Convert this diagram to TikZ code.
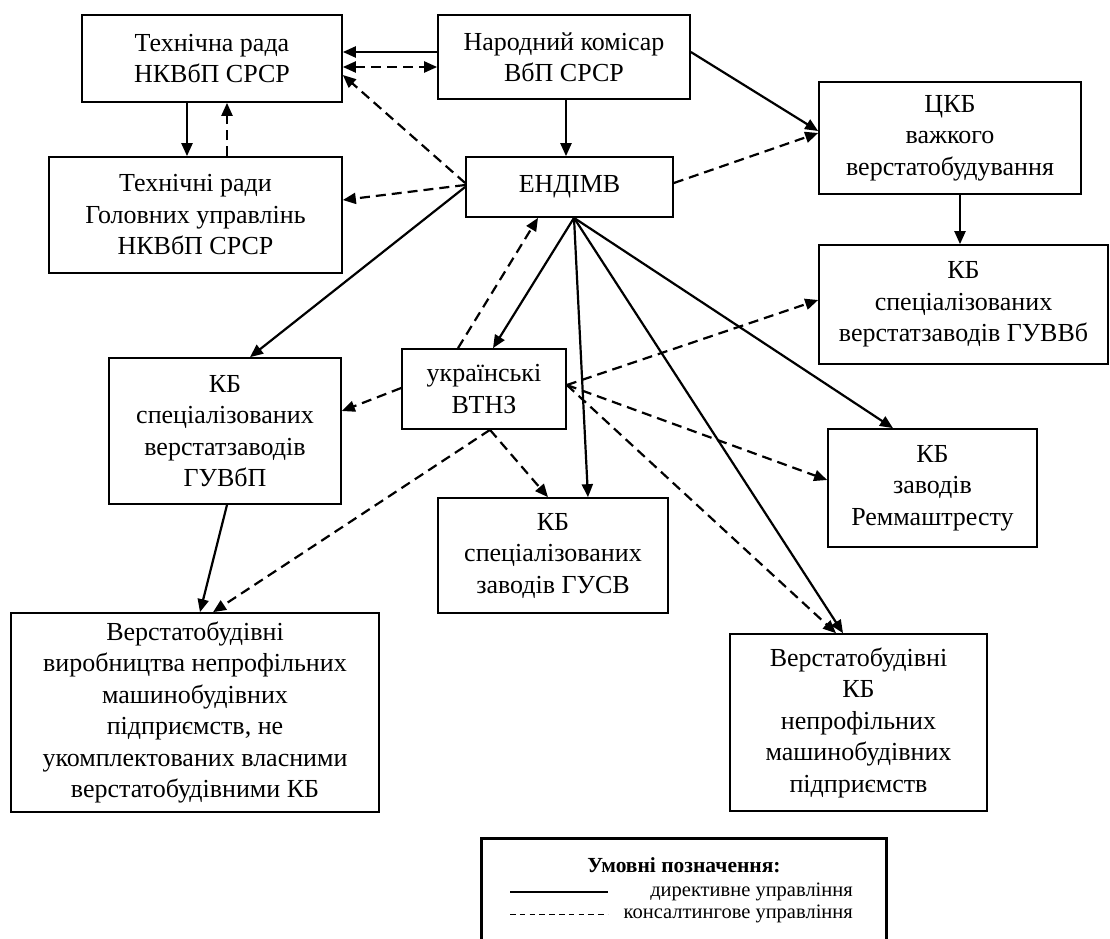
\documentclass[tikz,border=0pt]{standalone}
\usepackage{fontspec}
\setmainfont{Liberation Serif}
\usetikzlibrary{arrows.meta,calc}
\begin{document}
\begin{tikzpicture}[x=1pt,y=-1pt,
  box/.style={draw, line width=1.7pt, align=center, inner sep=0pt,
    font=\fontsize{26}{31.5}\selectfont},
  dir/.style={line width=2.2pt, -{Triangle[length=13pt,width=11pt]}},
  cons/.style={dir, dash pattern=on 10pt off 6pt},
  legtext/.style={inner sep=0pt, font=\fontsize{20.5}{22}\selectfont},
]
\useasboundingbox (0,0) rectangle (1110,938);
\fill[white] (0,0) rectangle (1110,938);

% boxes
\node[box, minimum width=260pt, minimum height=87pt] (tr) at (212,58.5) {Технічна рада\\НКВбП СРСР};
\node[box, minimum width=252pt, minimum height=84pt] (nk) at (564,57) {Народний комісар\\ВбП СРСР};
\node[box, minimum width=293pt, minimum height=116pt] (trg) at (195.5,215) {Технічні ради\\Головних управлінь\\НКВбП СРСР};
\node[box, minimum width=207pt, minimum height=60pt] (en) at (569.5,187) {ЕНДІМВ};
\node[box, minimum width=262pt, minimum height=112pt] (ckb) at (950,138) {ЦКБ\\важкого\\верстатобудування};
\node[box, minimum width=289pt, minimum height=119pt] (guvvb) at (963.5,304.5) {КБ\\спеціалізованих\\верстатзаводів ГУВВб};
\node[box, minimum width=164pt, minimum height=80pt] (vtnz) at (484,389) {українські\\ВТНЗ};
\node[box, minimum width=232pt, minimum height=146pt] (guvbp) at (225,431) {КБ\\спеціалізованих\\верстатзаводів\\ГУВбП};
\node[box, minimum width=230pt, minimum height=115pt] (gusv) at (553,555.5) {КБ\\спеціалізованих\\заводів ГУСВ};
\node[box, minimum width=209pt, minimum height=118pt] (remm) at (932.5,488) {КБ\\заводів\\Реммаштресту};
\node[box, minimum width=368pt, minimum height=199pt] (vv) at (195,712.5) {Верстатобудівні\\виробництва непрофільних\\машинобудівних\\підприємств, не\\укомплектованих власними\\верстатобудівними КБ};
\node[box, minimum width=257pt, minimum height=177pt] (vkb) at (858.5,722.5) {Верстатобудівні\\КБ\\непрофільних\\машинобудівних\\підприємств};

% connectors
\draw[dir] (nk.west |- 0,52) -- (tr.east |- 0,52);
\draw[cons, {Triangle[length=13pt,width=11pt]}-{Triangle[length=13pt,width=11pt]}] (tr.east |- 0,67) -- (nk.west |- 0,67);
\draw[cons] (en.west |- 0,183) -- (tr.east |- 0,75);
\draw[cons] (en.west |- 0,185) -- (trg.east |- 0,200);
\draw[dir] (tr.south -| 187,0) -- (trg.north -| 187,0);
\draw[cons] (trg.north -| 227,0) -- (tr.south -| 227,0);
\draw[dir] (nk.south -| 566,0) -- (en.north -| 566,0);
\draw[dir] (nk.east |- 0,52) -- (ckb.west |- 0,131);
\draw[cons] (en.east |- 0,183) -- (ckb.west |- 0,133);
\draw[dir] (ckb.south -| 960,0) -- (guvvb.north -| 960,0);
\draw[dir] (en.west |- 0,187) -- (guvbp.north -| 250,0);
\draw[cons] (vtnz.north -| 458,0) -- (en.south -| 538,0);

\coordinate (fan) at (en.south -| 574,0);
\draw[dir] (fan) -- (vtnz.north -| 493,0);
\draw[dir] (fan) -- (gusv.north -| 588,0);
\draw[dir] (fan) -- (remm.north -| 893,0);
\draw[dir] (fan) -- (vkb.north -| 843,0);

\coordinate (ve) at (vtnz.east |- 0,385);
\draw[cons] (ve) -- (guvvb.west |- 0,300);
\draw[cons] (ve) -- (remm.west |- 0,480);
\draw[cons] (ve) -- (vkb.north -| 836,0);
\draw[cons] (vtnz.west |- 0,388) -- (guvbp.east |- 0,411);
\coordinate (vs) at (vtnz.south -| 490,0);
\draw[cons] (vs) -- (gusv.north -| 548,0);
\draw[cons] (vs) -- (vv.north -| 213,0);
\draw[dir] (guvbp.south -| 227,0) -- (vv.north -| 200,0);

% legend
\node[draw, line width=3pt, minimum width=405pt, minimum height=130pt, inner sep=0pt] (leg) at (683.5,903) {};
\node[legtext, font=\fontsize{21.5}{22}\selectfont\bfseries, anchor=base] (legt) at (684,872) {Умовні позначення:};
\node[legtext, anchor=base east] (leg1) at (853,896) {директивне управління};
\node[legtext, anchor=base east] (leg2) at (853,918) {консалтингове управління};
\coordinate (l1a) at (510,892); \coordinate (l1b) at (608,892);
\coordinate (l2a) at (510,914); \coordinate (l2b) at (608,914);
\draw[line width=2pt] (l1a) -- (l1b);
\draw[line width=1pt, dash pattern=on 5.5pt off 4.3pt] (l2a) -- (l2b);
\end{tikzpicture}
\end{document}
